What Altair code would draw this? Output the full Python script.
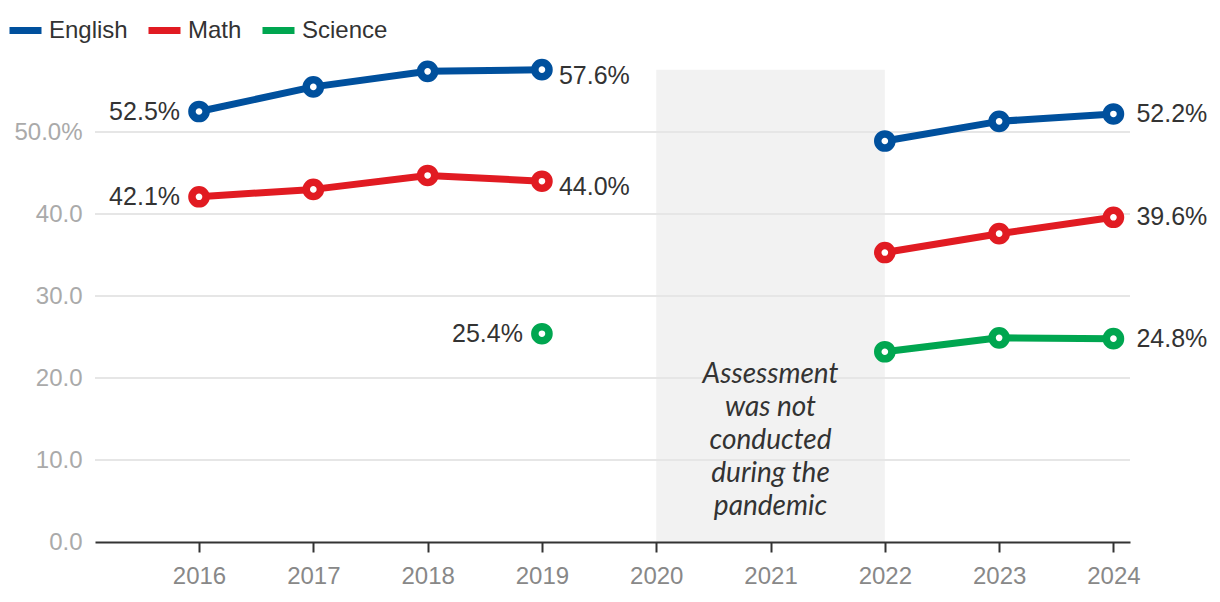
import altair as alt
import pandas as pd

# ---------------- data ----------------
subjects = ["English", "Math", "Science"]
colors = ["#00509d", "#e11b22", "#00a650"]

english_years = [2016, 2017, 2018, 2019, 2022, 2023, 2024]
english_values = [52.5, 55.5, 57.4, 57.6, 48.9, 51.3, 52.2]
math_years = [2016, 2017, 2018, 2019, 2022, 2023, 2024]
math_values = [42.1, 43.0, 44.7, 44.0, 35.3, 37.6, 39.6]
science_years = [2019, 2022, 2023, 2024]
science_values = [25.4, 23.2, 24.9, 24.8]

x_ticks = [2016, 2017, 2018, 2019, 2020, 2021, 2022, 2023, 2024]
y_ticks = [0, 10, 20, 30, 40, 50]

gap_start, gap_end = 2020, 2022
gap_note = ["Assessment", "was not", "conducted", "during the", "pandemic"]
note_year = 2021
note_value = 20.4

FONT = "Liberation Sans"

# ---------------- tables ----------------
rows = []
for subj, yrs, vals in [("English", english_years, english_values),
                        ("Math", math_years, math_values),
                        ("Science", science_years, science_values)]:
    for yr, v in zip(yrs, vals):
        period = "before" if yr < gap_start else "after"
        rows.append({"subject": subj, "year": yr, "value": v,
                     "seg": subj + "-" + period,
                     "first": yr == min(yrs)})
df = pd.DataFrame(rows)
df["label"] = df["value"].map(lambda v: f"{v:.1f}%")

left_lab = df[df["first"]]
mid_lab = df[(~df["first"]) & (df["year"] == 2019)]
end_lab = df[df["year"] == 2024]

gap_df = pd.DataFrame({"year": [gap_start], "year2": [gap_end],
                       "value": [0], "value2": [df["value"].max()]})
grid_df = pd.DataFrame({"value": [t for t in y_ticks if t != 0]})
note_df = pd.DataFrame({"year": [note_year], "value": [note_value]})

# ---------------- encodings ----------------
x_enc = alt.X("year:Q",
              scale=alt.Scale(domain=[2015.09, 2024.145], nice=False, zero=False),
              axis=alt.Axis(values=x_ticks, format="d", title=None, grid=False,
                            domainColor="#333333", domainWidth=2,
                            tickColor="#333333", tickWidth=2, tickSize=10,
                            labelColor="#888888", labelFontSize=24, labelFont=FONT,
                            labelPadding=12, zindex=1))
y_enc = alt.Y("value:Q",
              scale=alt.Scale(domain=[0, 60], nice=False),
              axis=alt.Axis(values=y_ticks, title=None, grid=False, domain=False,
                            ticks=False, tickSize=0,
                            labelExpr="datum.value == 50 ? '50.0%' : format(datum.value, '.1f')",
                            labelColor="#aaaaaa", labelFontSize=24, labelFont=FONT,
                            labelPadding=13))
color_scale = alt.Scale(domain=subjects, range=colors)

rect = alt.Chart(gap_df).mark_rect(color="#f2f2f2").encode(
    x=x_enc, x2="year2:Q", y=y_enc, y2="value2:Q")

grid = alt.Chart(grid_df).mark_rule(color="#e6e6e6", strokeWidth=2).encode(y=y_enc)

lines = alt.Chart(df).mark_line(strokeWidth=7, strokeJoin="round", strokeCap="round").encode(
    x=x_enc, y=y_enc,
    color=alt.Color("subject:N", scale=color_scale,
                    legend=alt.Legend(orient="none", legendX=-89, legendY=-39,
                                      direction="horizontal", title=None,
                                      symbolType="stroke", symbolSize=1024,
                                      symbolStrokeWidth=7, labelFontSize=24,
                                      labelFont=FONT, labelColor="#333333",
                                      labelOffset=4, columnPadding=6, padding=0,
                                      gridAlign="none")),
    detail="seg:N")

points = alt.Chart(df).mark_point(shape="circle", size=200, strokeWidth=7.5,
                                  fill="white", filled=False, opacity=1,
                                  fillOpacity=1).encode(
    x=x_enc, y=y_enc,
    stroke=alt.Stroke("subject:N", scale=color_scale, legend=None))

txt_style = dict(fontSize=25, font=FONT, color="#333333", baseline="middle")
t_left = alt.Chart(left_lab).mark_text(align="right", dx=-19, **txt_style).encode(
    x=x_enc, y=y_enc, text="label:N")
t_mid = alt.Chart(mid_lab).mark_text(align="left", dx=17, dy=6, **txt_style).encode(
    x=x_enc, y=y_enc, text="label:N")
t_end = alt.Chart(end_lab).mark_text(align="left", dx=23, **txt_style).encode(
    x=x_enc, y=y_enc, text="label:N")

note = alt.Chart(note_df).mark_text(text=gap_note, font="Lato", fontStyle="italic",
                                    fontSize=28, lineHeight=33, color="#333333",
                                    align="center", baseline="middle").encode(
    x=x_enc, y=y_enc)

chart = alt.layer(rect, grid, lines, points, t_left, t_mid, t_end, note).properties(
    width=1035, height=492,
    padding={"left": 87, "top": 42, "right": 82, "bottom": 52},
    autosize="none",
    background="white",
).configure_view(strokeWidth=0)

chart.save("out.html", embed_options={"renderer": "svg", "actions": False})
